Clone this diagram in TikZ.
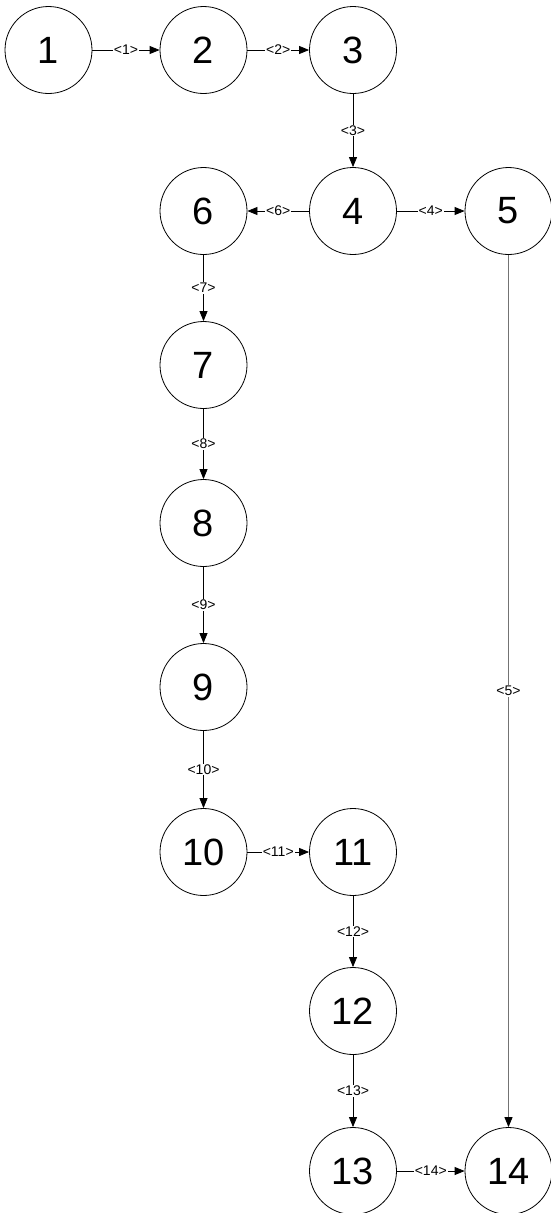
\documentclass[tikz,border=0pt]{standalone}
\usepackage{fontspec}
\setmainfont{Liberation Sans}
\usetikzlibrary{arrows.meta}
\begin{document}
\begin{tikzpicture}[x=1pt,y=-1pt,
  state/.style={circle,draw=black,line width=0.8pt,minimum size=87pt,inner sep=0pt,font=\fontsize{38}{40}\selectfont},
  edge/.style={draw=black,line width=0.8pt,-{Triangle[length=10pt,width=8pt,color=black]}},
  grayedge/.style={edge,draw=black!55,line width=1pt},
  lbl/.style={fill=white,inner sep=1pt,font=\fontsize{14}{15}\selectfont}]
\useasboundingbox (0,0) rectangle (551,1213);
\node[state] (n1) at (48.5,50) {1};
\node[state] (n2) at (203.5,50) {2};
\node[state] (n3) at (353,50) {3};
\node[state] (n4) at (353,211) {4};
\node[state] (n5) at (508.5,211) {5};
\node[state] (n6) at (203.5,211) {6};
\node[state] (n7) at (203.5,365) {7};
\node[state] (n8) at (203.5,523) {8};
\node[state] (n9) at (203.5,687) {9};
\node[state] (n10) at (203.5,852) {10};
\node[state] (n11) at (353,852) {11};
\node[state] (n12) at (353,1011) {12};
\node[state] (n13) at (353,1171) {13};
\node[state] (n14) at (508.5,1171) {14};
\path[edge] (n1) -- node[lbl] {<1>} (n2);
\path[edge] (n2) -- node[lbl] {<2>} (n3);
\path[edge] (n3) -- node[lbl] {<3>} (n4);
\path[edge] (n4) -- node[lbl] {<4>} (n5);
\path[grayedge] (n5) -- node[lbl] {<5>} (n14);
\path[edge] (n4) -- node[lbl] {<6>} (n6);
\path[edge] (n6) -- node[lbl] {<7>} (n7);
\path[edge] (n7) -- node[lbl] {<8>} (n8);
\path[edge] (n8) -- node[lbl] {<9>} (n9);
\path[edge] (n9) -- node[lbl] {<10>} (n10);
\path[edge] (n10) -- node[lbl] {<11>} (n11);
\path[edge] (n11) -- node[lbl] {<12>} (n12);
\path[edge] (n12) -- node[lbl] {<13>} (n13);
\path[edge] (n13) -- node[lbl] {<14>} (n14);
\end{tikzpicture}
\end{document}
